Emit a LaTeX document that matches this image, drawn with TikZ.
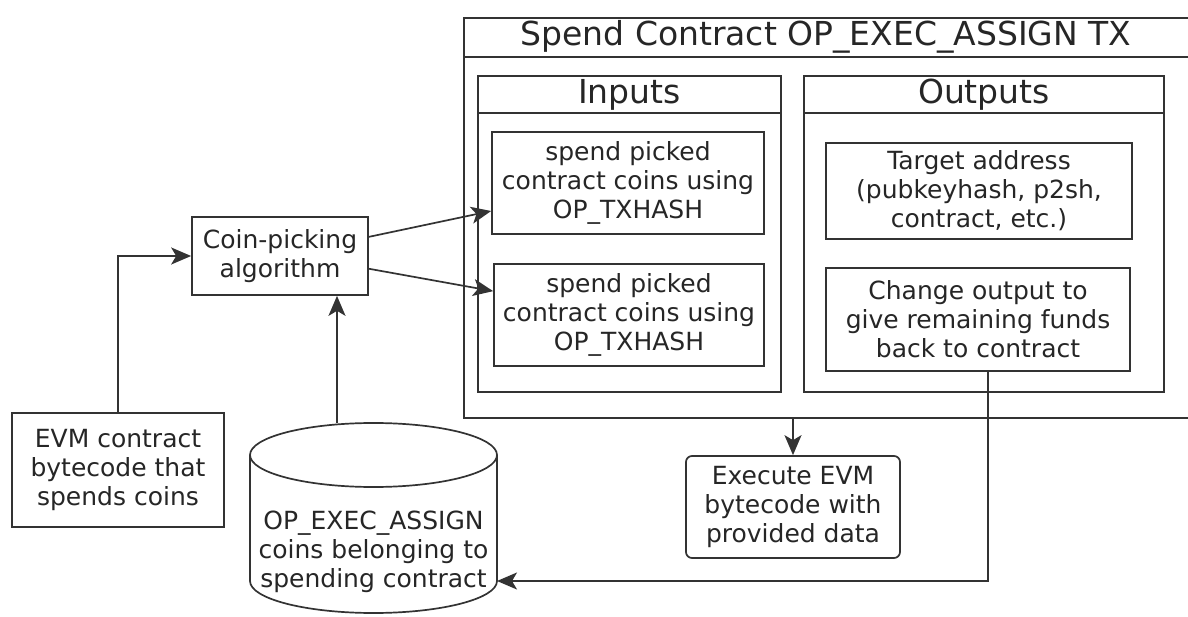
\documentclass[tikz,border=0pt]{standalone}
\usepackage{fontspec}
\setmainfont{DejaVu Sans}
\usetikzlibrary{arrows.meta,calc}
\newcommand{\bodyfs}{\fontsize{25}{29}\selectfont}
\newcommand{\headfs}{\fontsize{33}{38}\selectfont}
\begin{document}
\begin{tikzpicture}[x=1pt,y=-1pt,
  ln/.style={draw=black!80, line width=1.7pt},
  box/.style={ln, fill=white, align=center, font=\bodyfs, text=black!85, inner sep=0pt},
  frame/.style={ln, inner sep=0pt},
  head/.style={font=\headfs, text=black!85, inner sep=0pt},
  arr/.style={ln, -{Stealth[length=20pt,width=17pt,inset=5pt]}}]
\useasboundingbox (0,0) rectangle (1188,617);
% outer transaction frame
\node (tx) [frame, minimum width=727, minimum height=400, anchor=north west] at (463,17) {};
\draw[ln] (463,57) -- (1190,57);
\node (txtitle) [head] at (826,37) {Spend Contract OP\_EXEC\_ASSIGN TX};
% inputs / outputs frames
\node (inp) [frame, minimum width=303, minimum height=316] at (629.5,234) {};
\draw[ln] (inp.west |- 0,113) -- (inp.east |- 0,113);
\node (inptitle) [head] at (629.5,95) {Inputs};
\node (outp) [frame, minimum width=360, minimum height=316] at (984,234) {};
\draw[ln] (outp.west |- 0,113) -- (outp.east |- 0,113);
\node (outptitle) [head] at (984,95) {Outputs};
% inner boxes
\node (spend1) [box, minimum width=272, minimum height=102] at (628,183) {spend picked\\contract coins using\\OP\_TXHASH};
\node (spend2) [box, minimum width=270, minimum height=102] at (629,315) {spend picked\\contract coins using\\OP\_TXHASH};
\node (target) [box, minimum width=306, minimum height=96] at (979,191) {Target address\\(pubkeyhash, p2sh,\\contract, etc.)};
\node (change) [box, minimum width=304, minimum height=103] at (978,319.5) {Change output to\\give remaining funds\\back to contract};
% left side
\node (coin) [box, minimum width=176, minimum height=78] at (280,256) {Coin-picking\\algorithm};
\node (evm) [box, minimum width=212, minimum height=114] at (118,470) {EVM contract\\bytecode that\\spends coins};
\node (exec) [box, rounded corners=6pt, minimum width=214, minimum height=102] at (793,507) {Execute EVM\\bytecode with\\provided data};
% cylinder
\node (cyl) [minimum width=247, minimum height=190, inner sep=0pt] at (373.5,518) {};
\draw[ln, fill=white] (250,455) -- (250,581) arc[start angle=180, end angle=0, x radius=123.5, y radius=32] -- (497,455);
\draw[ln, fill=white] (373.5,455) ellipse[x radius=123.5, y radius=32];
\node (cyltext) [align=center, font=\bodyfs, text=black!85, inner sep=0pt] at (373.5,552) {OP\_EXEC\_ASSIGN\\coins belonging to\\spending contract};
\coordinate (cyltop) at (337,423);
\coordinate (cylin) at (497,581);
\coordinate (chgx) at (988,0);
% connectors
\draw[arr] (evm.north) |- (coin.west);
\draw[arr] (cyltop) -- (cyltop |- coin.south);
\draw[arr] ($(coin.north east)!0.26!(coin.south east)$) -- ($(spend1.north west)!0.77!(spend1.south west)$);
\draw[arr] ($(coin.north east)!0.66!(coin.south east)$) -- ($(spend2.north west)!0.27!(spend2.south west)$);
\draw[arr] (tx.south -| exec.north) -- (exec.north);
\draw[arr] (change.south -| chgx) |- (cylin);
\end{tikzpicture}
\end{document}
